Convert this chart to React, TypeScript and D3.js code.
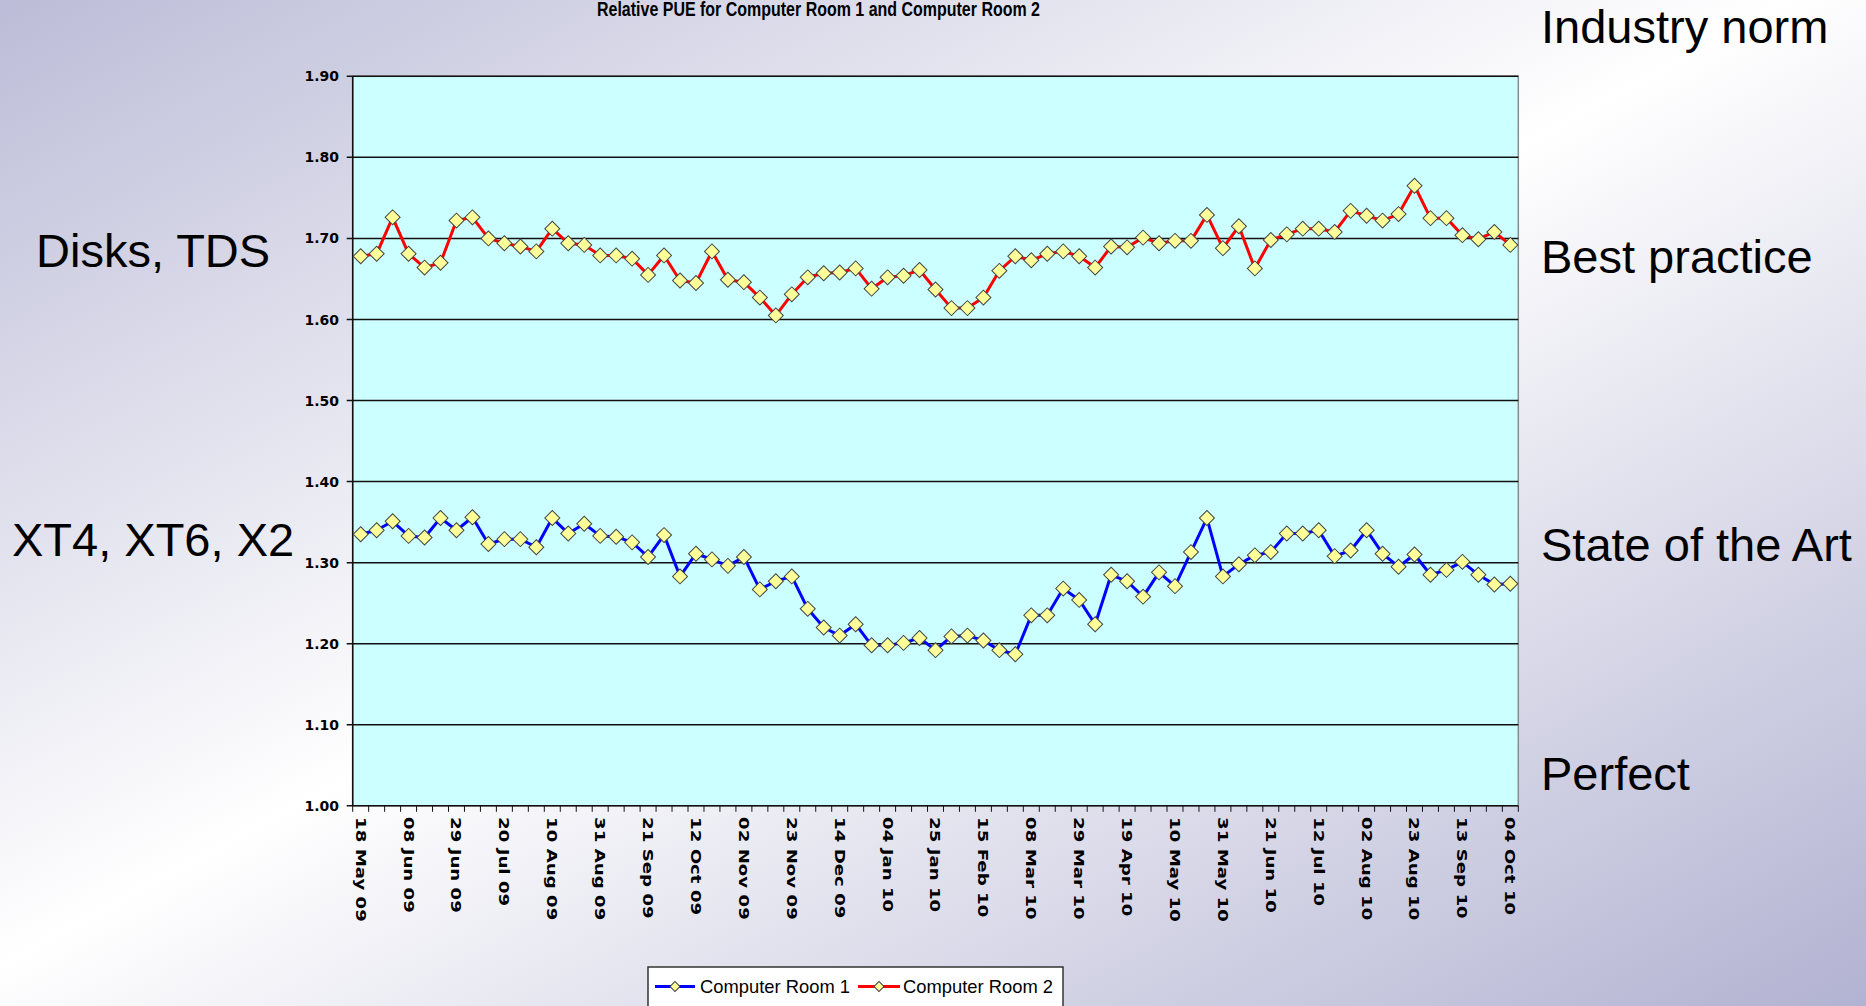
import React, { useRef, useEffect } from 'react';
import * as d3 from 'd3';

const WIDTH = 1866;
const HEIGHT = 1006;

const TITLE = 'Relative PUE for Computer Room 1 and Computer Room 2';
const SERIES_NAMES = ['Computer Room 1', 'Computer Room 2'];
const SERIES_COLORS = ['#0000ff', '#ff0000'];

const Y_TICKS = [1.0, 1.1, 1.2, 1.3, 1.4, 1.5, 1.6, 1.7, 1.8, 1.9];

// weekly readings, 18 May 09 .. 04 Oct 10
const ROOM1 = [
  1.335, 1.340, 1.351, 1.333, 1.331, 1.355, 1.340, 1.356, 1.323, 1.329,
  1.329, 1.319, 1.355, 1.336, 1.348, 1.333, 1.332, 1.325, 1.307, 1.334,
  1.283, 1.311, 1.304, 1.296, 1.307, 1.267, 1.277, 1.283, 1.243, 1.220,
  1.210, 1.224, 1.198, 1.198, 1.201, 1.207, 1.192, 1.209, 1.210, 1.204,
  1.192, 1.187, 1.235, 1.235, 1.268, 1.254, 1.224, 1.285, 1.277, 1.258,
  1.288, 1.271, 1.313, 1.355, 1.283, 1.298, 1.309, 1.313, 1.336, 1.336,
  1.340, 1.308, 1.315, 1.340, 1.311, 1.295, 1.310, 1.285, 1.291, 1.301,
  1.285, 1.273, 1.274,
];

const ROOM2 = [
  1.678, 1.681, 1.726, 1.681, 1.664, 1.670, 1.722, 1.726, 1.700, 1.694,
  1.690, 1.684, 1.712, 1.694, 1.692, 1.679, 1.679, 1.675, 1.655, 1.679,
  1.648, 1.645, 1.684, 1.649, 1.646, 1.627, 1.605, 1.631, 1.652, 1.657,
  1.658, 1.663, 1.638, 1.652, 1.654, 1.661, 1.637, 1.614, 1.614, 1.627,
  1.660, 1.678, 1.673, 1.681, 1.684, 1.678, 1.664, 1.690, 1.689, 1.701,
  1.694, 1.697, 1.697, 1.729, 1.688, 1.715, 1.663, 1.698, 1.705, 1.712,
  1.712, 1.708, 1.734, 1.728, 1.722, 1.730, 1.765, 1.725, 1.725, 1.704,
  1.699, 1.708, 1.692,
];

// every third week is labelled
const TICK_LABELS = [
  '18 May 09', '08 Jun 09', '29 Jun 09', '20 Jul 09', '10 Aug 09', '31 Aug 09',
  '21 Sep 09', '12 Oct 09', '02 Nov 09', '23 Nov 09', '14 Dec 09', '04 Jan 10',
  '25 Jan 10', '15 Feb 10', '08 Mar 10', '29 Mar 10', '19 Apr 10', '10 May 10',
  '31 May 10', '21 Jun 10', '12 Jul 10', '02 Aug 10', '23 Aug 10', '13 Sep 10',
  '04 Oct 10',
];

const LEFT_NOTES = ['Disks, TDS', 'XT4, XT6, X2'];
const RIGHT_NOTES = ['Industry norm', 'Best practice', 'State of the Art', 'Perfect'];

const App = () => {
  const svgRef = useRef<SVGSVGElement>(null);

  useEffect(() => {
    if (!svgRef.current) return;
    const svg = d3.select(svgRef.current);
    svg.selectAll('*').remove();

    const plot = { left: 352.7, right: 1518.3, top: 76.3, bottom: 805.8 };

    // background gradient
    const defs = svg.append('defs');
    const grad = defs.append('linearGradient')
      .attr('id', 'bg')
      .attr('x1', 0).attr('y1', 0).attr('x2', 1).attr('y2', 1);
    grad.append('stop').attr('offset', '0%').attr('stop-color', '#bcbcd8');
    grad.append('stop').attr('offset', '48%').attr('stop-color', '#ffffff');
    grad.append('stop').attr('offset', '100%').attr('stop-color', '#b2b2d2');
    svg.append('rect').attr('width', WIDTH).attr('height', HEIGHT).attr('fill', 'url(#bg)');

    // scales
    const idx = d3.range(ROOM1.length);
    const x = d3.scaleBand<number>()
      .domain(idx)
      .range([plot.left, plot.right])
      .padding(0);
    const cx = (i: number) => (x(i) as number) + x.bandwidth() / 2;
    const y = d3.scaleLinear().domain([1.0, 1.9]).range([plot.bottom, plot.top]);

    // plot area
    svg.append('rect')
      .attr('x', plot.left).attr('y', plot.top)
      .attr('width', plot.right - plot.left).attr('height', plot.bottom - plot.top)
      .attr('fill', '#ccffff')
      .attr('stroke', '#8a8a8a')
      .attr('stroke-width', 1.5);

    // gridlines
    svg.append('g')
      .selectAll('line')
      .data(Y_TICKS)
      .enter()
      .append('line')
      .attr('x1', plot.left - 6).attr('x2', plot.right)
      .attr('y1', d => y(d)).attr('y2', d => y(d))
      .attr('stroke', '#111')
      .attr('stroke-width', 1.5);

    // y axis line
    svg.append('line')
      .attr('x1', plot.left).attr('x2', plot.left)
      .attr('y1', plot.top).attr('y2', plot.bottom)
      .attr('stroke', '#111').attr('stroke-width', 1.5);

    // y labels
    svg.append('g')
      .selectAll('text')
      .data(Y_TICKS)
      .enter()
      .append('text')
      .attr('x', 339)
      .attr('y', d => y(d))
      .attr('dy', '0.36em')
      .attr('text-anchor', 'end')
      .style('font-family', '"DejaVu Sans", Verdana, sans-serif')
      .style('font-weight', 'bold')
      .style('font-size', '14px')
      .text(d => d.toFixed(2));

    // x axis ticks at category boundaries
    const bounds = d3.range(ROOM1.length + 1).map(i => plot.left + i * x.bandwidth());
    svg.append('g')
      .selectAll('line')
      .data(bounds)
      .enter()
      .append('line')
      .attr('x1', d => d).attr('x2', d => d)
      .attr('y1', plot.bottom).attr('y2', plot.bottom + 6)
      .attr('stroke', '#111').attr('stroke-width', 1);

    // x labels, rotated
    svg.append('g')
      .selectAll('text')
      .data(TICK_LABELS)
      .enter()
      .append('text')
      .attr('transform', (d, i) => `translate(${cx(i * 3)}, 817) rotate(90) scale(1.3, 1)`)
      .attr('dy', '0.36em')
      .attr('text-anchor', 'start')
      .style('font-family', '"DejaVu Sans", Verdana, sans-serif')
      .style('font-weight', 'bold')
      .style('font-size', '14px')
      .text(d => d);

    // series
    const line = d3.line<number>()
      .x((d, i) => cx(i))
      .y(d => y(d));
    const diamond = d3.symbol().type(d3.symbolSquare).size(112);

    [ROOM1, ROOM2].forEach((values, s) => {
      svg.append('path')
        .datum(values)
        .attr('d', line)
        .attr('fill', 'none')
        .attr('stroke', SERIES_COLORS[s])
        .attr('stroke-width', 3)
        .attr('stroke-linejoin', 'round');

      svg.append('g')
        .selectAll('path')
        .data(values)
        .enter()
        .append('path')
        .attr('d', diamond)
        .attr('transform', (d, i) => `translate(${cx(i)}, ${y(d)}) rotate(45)`)
        .attr('fill', '#ffff99')
        .attr('stroke', '#444')
        .attr('stroke-width', 1);
    });

    // title
    svg.append('text')
      .attr('x', 597)
      .attr('y', 15.5)
      .attr('textLength', 443)
      .attr('lengthAdjust', 'spacingAndGlyphs')
      .style('font-family', '"Liberation Sans", Arial, sans-serif')
      .style('font-weight', 'bold')
      .style('font-size', '21px')
      .text(TITLE);

    // legend
    const legend = svg.append('g');
    legend.append('rect')
      .attr('x', 648).attr('y', 967)
      .attr('width', 415).attr('height', 60)
      .attr('fill', '#ffffff')
      .attr('stroke', '#333')
      .attr('stroke-width', 1.5);
    const legendItems = [
      { x0: 655, x1: 695, tx: 700 },
      { x0: 858, x1: 900, tx: 903 },
    ];
    legendItems.forEach((it, s) => {
      const ly = 986.5;
      legend.append('line')
        .attr('x1', it.x0).attr('x2', it.x1)
        .attr('y1', ly).attr('y2', ly)
        .attr('stroke', SERIES_COLORS[s]).attr('stroke-width', 3);
      legend.append('path')
        .attr('d', d3.symbol().type(d3.symbolSquare).size(50)())
        .attr('transform', `translate(${(it.x0 + it.x1) / 2}, ${ly}) rotate(45)`)
        .attr('fill', '#ffff99')
        .attr('stroke', '#444');
      legend.append('text')
        .attr('x', it.tx)
        .attr('y', ly)
        .attr('dy', '0.36em')
        .attr('textLength', 150)
        .attr('lengthAdjust', 'spacingAndGlyphs')
        .style('font-family', '"Liberation Sans", Arial, sans-serif')
        .style('font-size', '19px')
        .text(SERIES_NAMES[s]);
    });

    // side annotations
    const noteStyle = (sel: any) => sel
      .style('font-family', '"Liberation Sans", Arial, sans-serif')
      .style('font-size', '47px')
      .attr('fill', '#000');

    const leftPos = [[36, 266.6], [12, 555.7]];
    LEFT_NOTES.forEach((t, i) => {
      svg.append('text')
        .attr('x', leftPos[i][0]).attr('y', leftPos[i][1])
        .call(noteStyle)
        .text(t);
    });
    const rightBase = [43, 272.5, 560.5, 790];
    RIGHT_NOTES.forEach((t, i) => {
      svg.append('text')
        .attr('x', 1541).attr('y', rightBase[i])
        .call(noteStyle)
        .text(t);
    });
  }, []);

  return (
    <div style={{ position: 'absolute', left: 0, top: 0, width: WIDTH, height: HEIGHT, overflow: 'hidden' }}>
      <svg ref={svgRef} width={WIDTH} height={HEIGHT}></svg>
    </div>
  );
};

export default App;
